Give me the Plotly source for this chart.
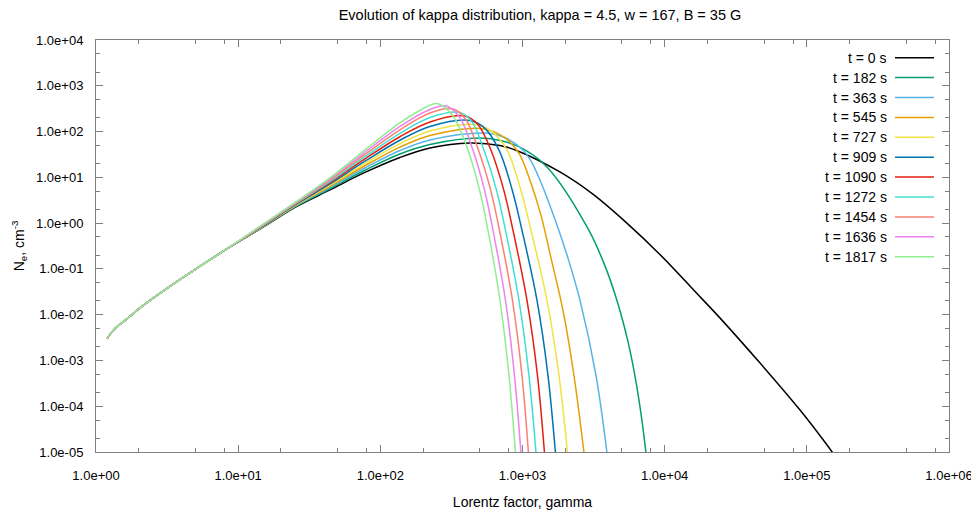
import plotly.graph_objects as go

# time labels and colours of the series
times = [0, 182, 363, 545, 727, 909, 1090, 1272, 1454, 1636, 1817]
colors = ['#000000', '#009e73', '#56b4e9', '#e69f00', '#f0e442', '#0072b2',
          '#e51e10', '#40e0d0', '#fa8072', '#ee82ee', '#90ee90']

# common low-energy part (all curves coincide here)
trunk_gamma = [1.20, 1.296, 1.428, 1.652, 2.039, 2.945, 5.05, 8.66]
trunk_ne = [3.04e-3, 4.21e-3, 5.69e-3, 8.10e-3, 1.408e-2, 3.23e-2, 0.100, 0.295]

# per-curve part
gamma_0 = [14.87, 25.5, 44.2, 77.9, 137.3, 223.3, 426.7, 693.6, 909, 1832, 3142, 5398, 9253,
           18180, 24450, 46710, 89270, 130200, 151600]
ne_0 = [0.806, 2.26, 5.31, 12.8, 27.2, 43.9, 56.4, 49.7, 38.7, 13.1, 4.23, 1.01, 0.207,
        0.0227, 8.51e-3, 8.86e-4, 8.34e-5, 1.85e-5, 9.75e-6]

gamma_182 = [14.87, 25.5, 44.2, 77.9, 137.3, 223.3, 501.7, 722.2, 1040, 1509, 2921, 3779,
             4605, 5484, 6162, 6835, 7377]
ne_182 = [0.82, 2.32, 5.64, 14.3, 32.4, 52.3, 72.5, 62.3, 39.7, 16.0, 0.710, 0.1222,
          0.0210, 2.82e-3, 4.85e-4, 6.49e-5, 1.0e-5]

gamma_363 = [14.87, 25.5, 44.2, 77.9, 137.3, 223.3, 543.9, 740.0, 1006, 1146, 1326, 1718,
             2086, 2533, 3282, 3922]
ne_363 = [0.83, 2.38, 5.99, 16.0, 38.5, 65.6, 93.2, 75.1, 39.7, 22.8, 8.78, 1.062,
          0.1739, 0.0210, 4.85e-4, 1.0e-5]

gamma_545 = [14.87, 25.5, 44.2, 77.9, 137.3, 223.3, 501.7, 676.8, 815.6, 958.7, 1127, 1347,
             1610, 1924, 2298, 2703]
ne_545 = [0.84, 2.44, 6.36, 17.9, 45.6, 82.2, 116.9, 89.1, 59.3, 30.8, 8.78, 1.51,
          0.1422, 0.01273, 4.85e-4, 1.0e-5]

gamma_727 = [14.87, 25.5, 44.2, 77.9, 137.3, 223.3, 462.7, 599.5, 776.9, 972.7, 1146, 1484, 1803, 2069]
ne_727 = [0.85, 2.50, 6.75, 20.1, 54.4, 103.1, 142.9, 103.6, 39.7, 5.31, 0.710, 0.0210, 4.85e-4, 1.0e-5]

gamma_909 = [14.87, 25.5, 44.2, 77.9, 137.3, 223.3, 426.7, 539.6, 682.3, 846.5, 990.4, 1263, 1509, 1703]
ne_909 = [0.86, 2.56, 7.18, 22.5, 64.6, 129.2, 174.8, 120.4, 39.7, 5.31, 0.710, 0.0210, 4.85e-4, 1.0e-5]

gamma_1090 = [14.87, 25.5, 44.2, 77.9, 137.3, 223.3, 393.4, 485.8, 599.5, 737.7, 856.2, 1074, 1273, 1426]
ne_1090 = [0.87, 2.63, 7.62, 25.2, 77.0, 162.1, 219.1, 142.9, 39.7, 5.31, 0.710, 0.0210, 4.85e-4, 1.0e-5]

gamma_1272 = [14.87, 25.5, 44.2, 77.9, 137.3, 223.3, 362.9, 440.9, 535.2, 655.3, 758.2, 943.5, 1109, 1243]
ne_1272 = [0.885, 2.69, 8.10, 28.2, 91.3, 203.3, 261.2, 162.9, 39.7, 5.31, 0.710, 0.0210, 4.85e-4, 1.0e-5]

gamma_1454 = [14.87, 25.5, 44.2, 77.9, 137.3, 223.3, 324, 398.3, 489.7, 596.6, 688.0, 849.3, 990.4, 1100]
ne_1454 = [0.90, 2.76, 8.60, 31.6, 109.0, 254.7, 311.6, 186.1, 39.7, 5.31, 0.710, 0.0210, 4.85e-4, 1.0e-5]

gamma_1636 = [14.87, 25.5, 44.2, 77.9, 137.3, 223.3, 289.3, 360.0, 448.0, 540.4, 619.2, 758.2, 877.2, 974.3]
ne_1636 = [0.92, 2.83, 9.14, 35.3, 129.2, 303.9, 362.2, 208.4, 39.7, 5.31, 0.710, 0.0210, 4.85e-4, 1.0e-5]

gamma_1817 = [14.87, 25.5, 44.2, 77.9, 137.3, 189.9, 250, 321.4, 413.0, 498.5, 571.0, 693.6, 802.6, 891.6]
ne_1817 = [0.937, 2.90, 9.70, 39.7, 154.1, 288.9, 410.9, 229.2, 39.7, 5.31, 0.710, 0.0210, 4.85e-4, 1.0e-5]

series = [(gamma_0, ne_0), (gamma_182, ne_182), (gamma_363, ne_363), (gamma_545, ne_545),
          (gamma_727, ne_727), (gamma_909, ne_909), (gamma_1090, ne_1090), (gamma_1272, ne_1272),
          (gamma_1454, ne_1454), (gamma_1636, ne_1636), (gamma_1817, ne_1817)]

x_ticks = [1, 10, 100, 1e3, 1e4, 1e5, 1e6]
x_ticktext = ['1.0e+00', '1.0e+01', '1.0e+02', '1.0e+03', '1.0e+04', '1.0e+05', '1.0e+06']
y_ticks = [1e-5, 1e-4, 1e-3, 1e-2, 1e-1, 1, 10, 100, 1e3, 1e4]
y_ticktext = ['1.0e-05', '1.0e-04', '1.0e-03', '1.0e-02', '1.0e-01',
              '1.0e+00', '1.0e+01', '1.0e+02', '1.0e+03', '1.0e+04']

FONT = 'Liberation Sans, Arial, sans-serif'
AXIS_COLOR = '#808080'
TXT = dict(family=FONT, size=14, color='#000000')
TICK_TXT = dict(family=FONT, size=13, color='#000000')

fig = go.Figure()

for (g, n), t, c in zip(series, times, colors):
    fig.add_trace(go.Scatter(
        x=trunk_gamma + g, y=trunk_ne + n,
        mode='lines',
        line=dict(color=c, width=1.5, shape='spline', smoothing=1.0),
        name=f't = {t} s',
        showlegend=False,
        hoverinfo='skip'
    ))

# gnuplot-style key: right-aligned text, line sample to its right
for i, (t, c) in enumerate(zip(times, colors)):
    yp = 1 - (17.7 + i * 19.9) / 412.0
    fig.add_annotation(
        x=(888.5 - 96) / 853.0, y=yp, xref='paper', yref='paper',
        text=f't = {t} s', showarrow=False, xanchor='right', yanchor='middle',
        font=TXT
    )
    fig.add_shape(
        type='line', xref='paper', yref='paper',
        x0=(895 - 96) / 853.0, x1=(934 - 96) / 853.0, y0=yp, y1=yp,
        line=dict(color=c, width=1.5)
    )

minor_x = [m * 10 ** k for k in range(0, 6) for m in (2, 5, 8)]
minor_y = [m * 10.0 ** k for k in range(-5, 4) for m in (2, 5)]

axis_common = dict(
    type='log', ticks='inside', ticklen=7, tickcolor=AXIS_COLOR, tickwidth=1,
    showline=True, linecolor=AXIS_COLOR, linewidth=1, mirror='ticks',
    showgrid=False, zeroline=False, automargin=False, tickfont=TICK_TXT,
)
fig.update_xaxes(
    range=[0, 6], tickvals=x_ticks, ticktext=x_ticktext, ticklabelstandoff=11,
    minor=dict(tickvals=minor_x, ticks='inside', ticklen=4, tickcolor=AXIS_COLOR),
    title=dict(text='Lorentz factor, gamma', font=TXT, standoff=15),
    **axis_common
)
fig.update_yaxes(
    range=[-5, 4], tickvals=y_ticks, ticktext=y_ticktext, ticklabelstandoff=9,
    minor=dict(tickvals=minor_y, ticks='inside', ticklen=4, tickcolor=AXIS_COLOR),
    title=dict(text='N<sub>e</sub>, cm<sup>-3</sup>', font=TXT, standoff=8),
    **axis_common
)

# the page body adds an 8 px offset, so margins are set 8 px smaller on the left/top
fig.update_layout(
    width=979, height=516,
    margin=dict(l=88, r=38, t=32, b=72),
    paper_bgcolor='white', plot_bgcolor='white',
    title=dict(text='Evolution of kappa distribution, kappa = 4.5, w = 167, B = 35 G',
               x=0.5434, xanchor='center', y=0.986, yanchor='middle',
               font=dict(family=FONT, size=14.5, color='#000000')),
)

fig.write_html('out.html')
